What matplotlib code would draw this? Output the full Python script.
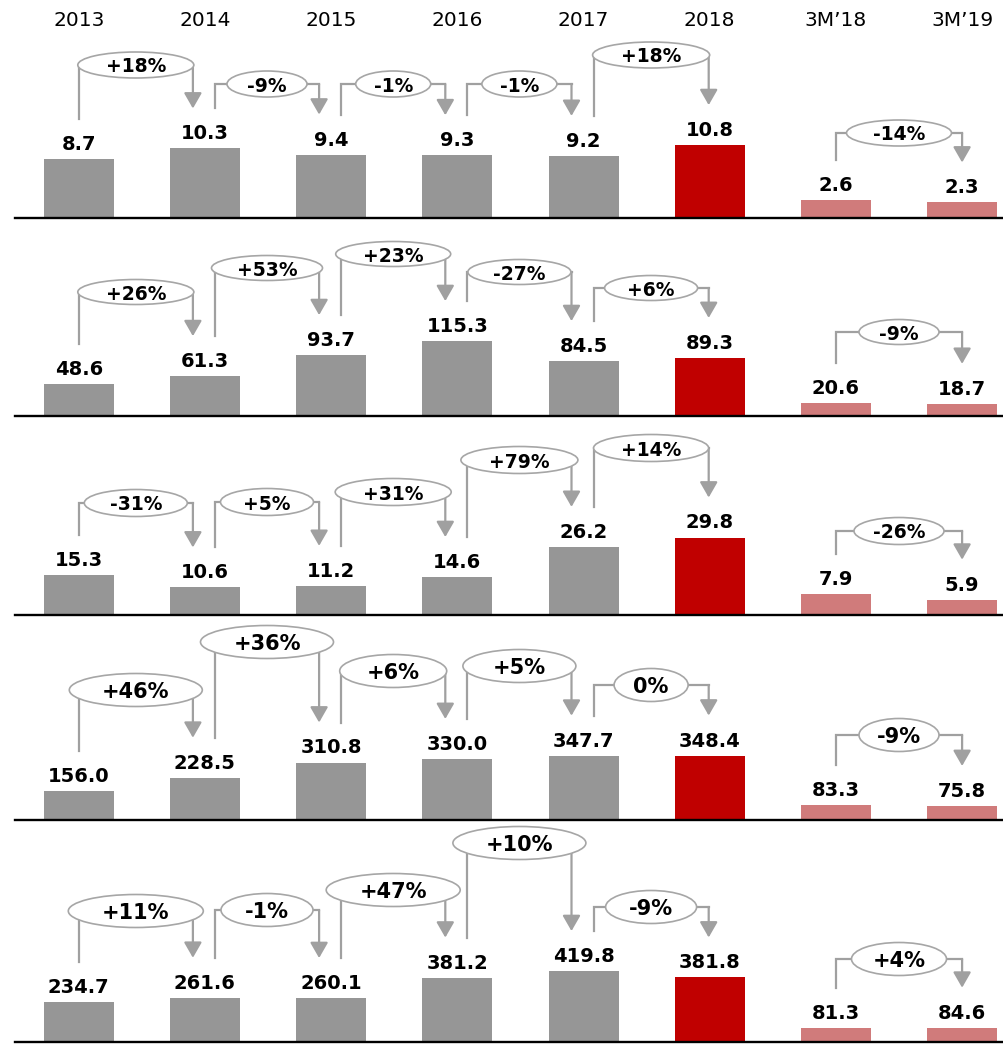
import matplotlib
matplotlib.use("Agg")
import matplotlib.pyplot as plt
import matplotlib.transforms as mtransforms
from matplotlib.patches import Ellipse

# categories and values per row
years = ["2013", "2014", "2015", "2016", "2017", "2018", "3M\u201918", "3M\u201919"]
row1 = [8.7, 10.3, 9.4, 9.3, 9.2, 10.8, 2.6, 2.3]
row2 = [48.6, 61.3, 93.7, 115.3, 84.5, 89.3, 20.6, 18.7]
row3 = [15.3, 10.6, 11.2, 14.6, 26.2, 29.8, 7.9, 5.9]
row4 = [156.0, 228.5, 310.8, 330.0, 347.7, 348.4, 83.3, 75.8]
row5 = [234.7, 261.6, 260.1, 381.2, 419.8, 381.8, 81.3, 84.6]

# growth labels between bar pairs
pct1 = ["+18%", "-9%", "-1%", "-1%", "+18%", "-14%"]
pct2 = ["+26%", "+53%", "+23%", "-27%", "+6%", "-9%"]
pct3 = ["-31%", "+5%", "+31%", "+79%", "+14%", "-26%"]
pct4 = ["+46%", "+36%", "+6%", "+5%", "0%", "-9%"]
pct5 = ["+11%", "-1%", "+47%", "+10%", "-9%", "+4%"]
pairs = [(0, 1), (1, 2), (2, 3), (3, 4), (4, 5), (6, 7)]

rows = [row1, row2, row3, row4, row5]
pcts = [pct1, pct2, pct3, pct4, pct5]

# layout (pixels)
W, H = 1004, 1048
baselines = [218, 416, 615, 820, 1042]
px_per_unit = [6.75, 0.65, 2.6, 0.185, 0.169]
first_center, step = 78.7, 126.2
left_px = 15
AX_H = 190
# bubble level above baseline, bubble width, bubble height
levels = [[153, 134, 134, 134, 163, 85],
          [124, 148, 162, 144, 128, 84],
          [112, 113, 123, 155, 167, 84],
          [130, 178, 149, 154, 135, 85],
          [131, 132, 152, 199, 135, 83]]
bub_w = [[116, 80, 75, 75, 117, 105],
         [116, 111, 115, 103, 93, 80],
         [103, 93, 116, 117, 115, 90],
         [133, 133, 107, 113, 74, 80],
         [135, 92, 134, 133, 91, 95]]
bub_h = [26, 25, 27, 33, 33]
pct_size = [13.5, 13.5, 13.5, 15, 15]

GRAY = "#969696"
RED = "#c00000"
PINK = "#d07b7b"
ARROW = "#a0a0a0"
bar_colors = [GRAY] * 5 + [RED] + [PINK] * 2

fig = plt.figure(figsize=(W / 100, H / 100), dpi=100)

axes = []
for r, vals in enumerate(rows):
    s = px_per_unit[r]
    base = baselines[r]
    ax = fig.add_axes([left_px / W, (H - base) / H, (W - left_px) / W, AX_H / H])
    ax.set_xlim((left_px - first_center) / step, (W - first_center) / step)
    ax.set_ylim(0, AX_H / s)
    ax.axis("off")
    axes.append(ax)

    x = list(range(len(vals)))
    ax.bar(x, vals, width=70 / step, color=bar_colors, zorder=2, clip_on=False)
    ax.axhline(0, color="black", lw=1.7, zorder=3, clip_on=False)

    for i, v in enumerate(vals):
        ax.annotate(f"{v:.1f}", (i, v), xytext=(0, 6.5), textcoords="offset points",
                    ha="center", va="baseline", fontsize=14, fontweight="bold",
                    annotation_clip=False)

    for k, (a, b) in enumerate(pairs):
        sdx = 0 if a in (0, 6) else 10
        edx = -12 if b in (1, 2, 3, 4) else (-1 if b == 5 else 0)
        xs = a + sdx / step
        xe = b + edx / step
        ys = vals[a] + 40 / s
        ye = vals[b] + 40 / s
        lv = levels[r][k] / s
        ax.plot([xs, xs, xe, xe], [ys, lv, lv, lv], color=ARROW, lw=1.6,
                solid_joinstyle="miter", solid_capstyle="projecting",
                zorder=3, clip_on=False)
        ax.annotate("", xy=(xe, ye), xytext=(xe, lv),
                    arrowprops=dict(arrowstyle="-|>,head_length=0.94,head_width=0.54",
                                    mutation_scale=10, color=ARROW, lw=1.6,
                                    shrinkA=0, shrinkB=0),
                    annotation_clip=False, zorder=3)
        mid = (xs + xe) / 2
        ell = Ellipse((mid, lv), bub_w[r][k] / step, bub_h[r] / s,
                      facecolor="white", edgecolor="#a6a6a6", lw=1.2,
                      zorder=4, clip_on=False)
        ax.add_patch(ell)
        ax.text(mid, lv, pcts[r][k], ha="center", va="center_baseline",
                fontsize=pct_size[r], fontweight="bold", zorder=5, clip_on=False)

# year headers on top
tr = mtransforms.blended_transform_factory(axes[0].transData, fig.transFigure)
for i, name in enumerate(years):
    axes[0].text(i, 1 - 21 / H, name, transform=tr, ha="center", va="center",
                 fontsize=14.5, clip_on=False)

fig.savefig("out.png", dpi=100)
